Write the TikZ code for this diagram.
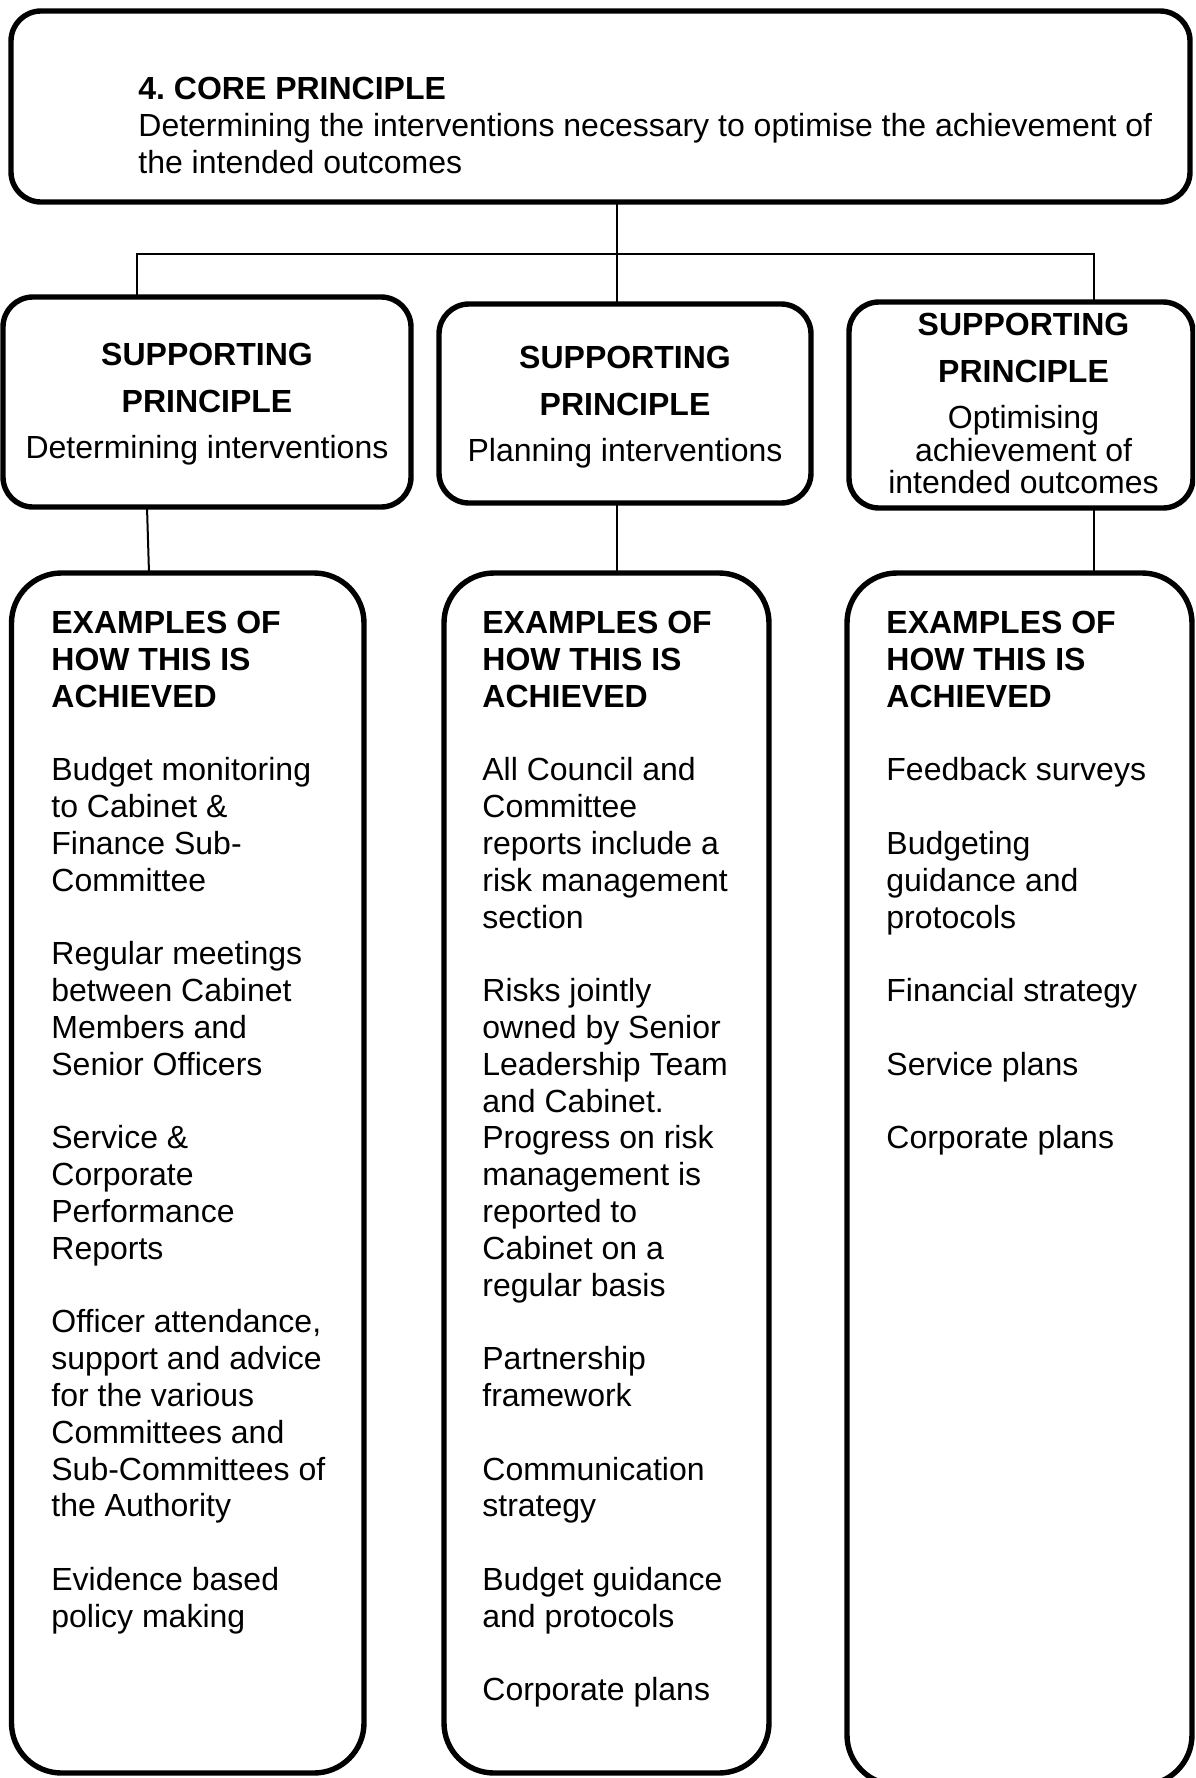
\documentclass[tikz,border=0pt]{standalone}
\usepackage{fontspec}
\setmainfont{Liberation Sans}
\frenchspacing
\begin{document}
\begin{tikzpicture}[x=0.5pt,y=-0.5pt,
  box/.style={draw,line width=2.7pt,rounded corners=15pt,fill=white,inner sep=0pt,outer sep=0pt},
  exbox/.style={draw,line width=2.7pt,rounded corners=25pt,fill=white,inner sep=0pt,outer sep=0pt},
  conn/.style={line width=1pt},
  body/.style={inner sep=0pt,anchor=north west,align=left,font=\fontsize{16}{18.4}\selectfont},
  sup/.style={inner sep=0pt,anchor=north,align=center,font=\fontsize{16}{16.25}\selectfont}]
\useasboundingbox (0,0) rectangle (1195,1778);
\clip (0,0) rectangle (1195,1778);
\fill[white] (0,0) rectangle (1195,1778);

% boxes
\node[box,minimum width=589.5pt,minimum height=95.5pt] (core) at (600.5,106.5) {};
\node[box,minimum width=204pt,minimum height=105pt] (sp1) at (207,402) {};
\node[box,minimum width=186pt,minimum height=99.5pt] (sp2) at (625,403.5) {};
\node[box,minimum width=172pt,minimum height=103pt] (sp3) at (1021,405) {};
\node[exbox,minimum width=176.25pt,minimum height=600pt] (ex1) at (187.75,1173) {};
\node[exbox,minimum width=162.5pt,minimum height=600pt] (ex2) at (606.5,1173) {};
\node[exbox,minimum width=172.5pt,minimum height=606pt] (ex3) at (1019.5,1179) {};

% connector coordinates
\coordinate (j1) at (137,254);
\coordinate (j2) at (617,254);
\coordinate (j3) at (1094,254);
\coordinate (c1a) at (147,0);
\coordinate (c1b) at (149,0);

\draw[conn] (core.south -| j2) -- (sp2.north -| j2);
\draw[conn] (sp1.north -| j1) -- (j1) -- (j3) -- (sp3.north -| j3);
\draw[conn] (sp1.south -| c1a) -- (ex1.north -| c1b);
\draw[conn] (sp2.south -| j2) -- (ex2.north -| j2);
\draw[conn] (sp3.south -| j3) -- (ex3.north -| j3);

% texts
\node[body] (coretext) at (138,77) {\textbf{4. CORE PRINCIPLE}\\Determining the interventions necessary to optimise the achievement of\\the intended outcomes};

\node[sup] (sp1text) at (207,343) {\textbf{SUPPORTING}\\[7pt]\textbf{PRINCIPLE}\\[7pt]Determining interventions};
\node[sup] (sp2text) at (625,346) {\textbf{SUPPORTING}\\[7pt]\textbf{PRINCIPLE}\\[7pt]Planning interventions};
\node[sup] (sp3text) at (1023.5,313) {\textbf{SUPPORTING}\\[7pt]\textbf{PRINCIPLE}\\[7pt]Optimising\\achievement of\\intended outcomes};

\node[body] (ex1text) at (51,611) {\textbf{EXAMPLES OF}\\\textbf{HOW THIS IS}\\\textbf{ACHIEVED}\\[18.4pt]
Budget monitoring\\to Cabinet \&\\Finance Sub-\\Committee\\[18.4pt]
Regular meetings\\between Cabinet\\Members and\\Senior Officers\\[18.4pt]
Service \&\\Corporate\\Performance\\Reports\\[18.4pt]
Officer attendance,\\support and advice\\for the various\\Committees and\\Sub-Committees of\\the Authority\\[18.4pt]
Evidence based\\policy making};

\node[body] (ex2text) at (482,611) {\textbf{EXAMPLES OF}\\\textbf{HOW THIS IS}\\\textbf{ACHIEVED}\\[18.4pt]
All Council and\\Committee\\reports include a\\risk management\\section\\[18.4pt]
Risks jointly\\owned by Senior\\Leadership Team\\and Cabinet.\\Progress on risk\\management is\\reported to\\Cabinet on a\\regular basis\\[18.4pt]
Partnership\\framework\\[18.4pt]
Communication\\strategy\\[18.4pt]
Budget guidance\\and protocols\\[18.4pt]
Corporate plans};

\node[body] (ex3text) at (886,611) {\textbf{EXAMPLES OF}\\\textbf{HOW THIS IS}\\\textbf{ACHIEVED}\\[18.4pt]
Feedback surveys\\[18.4pt]
Budgeting\\guidance and\\protocols\\[18.4pt]
Financial strategy\\[18.4pt]
Service plans\\[18.4pt]
Corporate plans};
\end{tikzpicture}
\end{document}
